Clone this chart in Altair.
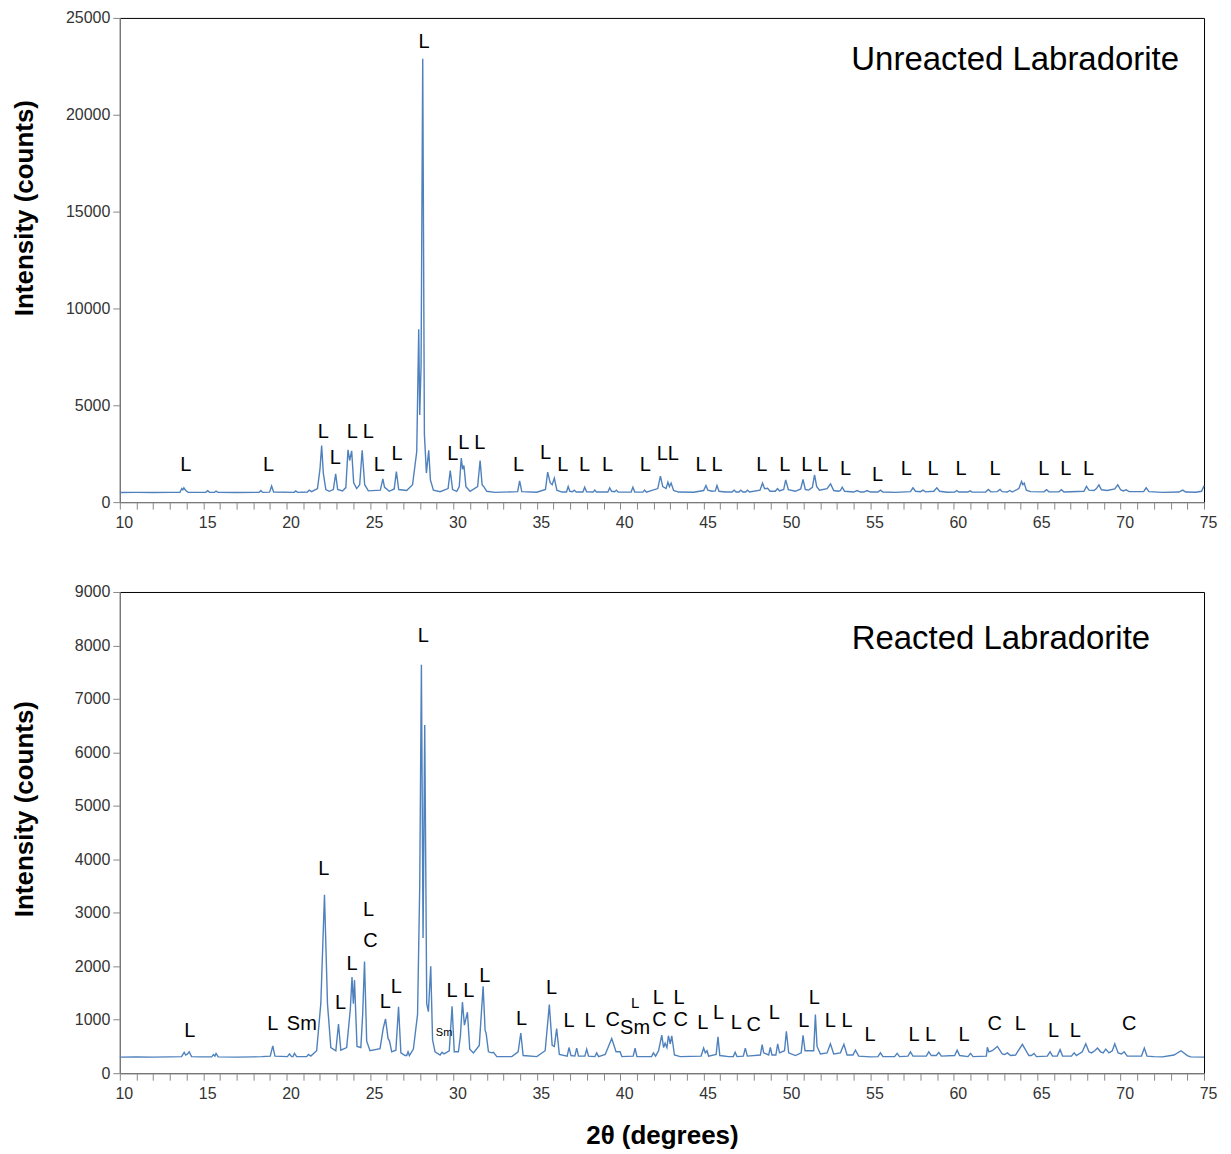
import altair as alt
import pandas as pd

# ---------------- data ----------------
unreacted_points = [
    (10.0, 500), (11.0, 505), (12.0, 500), (13.0, 505), (13.6, 510), (13.72, 700), (13.78, 640), (13.84, 740), (13.95, 600), (14.1, 505),
    (15.15, 505), (15.27, 590), (15.38, 505), (15.68, 505), (15.77, 570), (15.88, 505), (17.0, 500), (18.35, 505), (18.46, 600), (18.56, 505),
    (18.98, 515), (19.1, 830), (19.22, 520), (20.45, 505), (20.55, 580), (20.66, 505), (21.25, 520), (21.35, 620), (21.5, 540),
    (21.85, 700), (22.0, 1700), (22.1, 2920), (22.2, 1500), (22.35, 650), (22.55, 560), (22.8, 650), (22.94, 1460), (23.06, 650), (23.35, 580),
    (23.55, 750), (23.68, 2700), (23.78, 2150), (23.9, 2650), (24.02, 1000), (24.2, 700), (24.38, 900), (24.53, 2680), (24.68, 900), (24.9, 580),
    (25.62, 620), (25.77, 1200), (25.87, 760), (25.97, 700), (26.15, 560), (26.45, 680), (26.58, 1580), (26.72, 650), (27.2, 600),
    (27.55, 900), (27.8, 2600), (27.92, 8920), (27.98, 4500), (28.06, 7000), (28.16, 22890), (28.26, 3500), (28.38, 1500), (28.52, 2680),
    (28.62, 1150), (28.8, 620), (29.2, 540),
    (29.68, 700), (29.81, 1630), (29.95, 650), (30.2, 560), (30.35, 800), (30.47, 2270), (30.55, 1700), (30.63, 1890), (30.75, 800), (31.0, 560),
    (31.45, 800), (31.6, 2150), (31.72, 900), (31.85, 760), (32.0, 560), (32.5, 505),
    (33.85, 540), (33.97, 1100), (34.1, 540), (35.0, 510), (35.52, 650), (35.65, 1550), (35.8, 1000), (35.92, 900), (36.05, 1240), (36.2, 620), (36.5, 520),
    (36.78, 520), (36.88, 810), (36.98, 560), (37.14, 540), (37.24, 620), (37.36, 520), (37.76, 520), (37.87, 770), (37.98, 530), (38.38, 520), (38.47, 620), (38.58, 520),
    (39.26, 520), (39.37, 740), (39.48, 560), (39.66, 540), (39.77, 620), (39.88, 515), (40.65, 520), (40.76, 770), (40.87, 520), (41.36, 515), (41.46, 620), (41.57, 515),
    (42.25, 700), (42.41, 1340), (42.55, 800), (42.75, 700), (42.86, 1030), (42.95, 800), (43.05, 980), (43.2, 600), (43.5, 520),
    (44.4, 510), (45.0, 600), (45.14, 860), (45.25, 620), (45.5, 560), (45.7, 580), (45.8, 860), (45.92, 560), (46.3, 520), (46.7, 520), (46.83, 620),
    (46.95, 520), (47.12, 520), (47.23, 620), (47.35, 520), (47.52, 520), (47.63, 620), (47.75, 520),
    (48.38, 620), (48.53, 980), (48.65, 700), (48.83, 720), (48.98, 560), (49.3, 560), (49.43, 700), (49.55, 580), (49.8, 650), (49.92, 1150), (50.08, 640), (50.5, 560),
    (50.82, 680), (50.96, 1170), (51.1, 650), (51.3, 620), (51.52, 760), (51.65, 1410), (51.78, 800), (51.95, 620), (52.4, 700), (52.61, 940), (52.8, 600), (53.1, 560),
    (53.2, 600), (53.31, 770), (53.45, 560), (54.0, 520), (54.2, 600), (54.4, 520), (54.6, 520), (54.8, 600), (55.0, 520), (55.45, 520), (55.6, 620), (55.75, 520),
    (56.5, 505), (57.4, 540), (57.55, 740), (57.7, 560), (58.0, 540), (58.15, 620), (58.3, 530), (58.8, 560), (58.98, 740), (59.15, 560), (59.6, 510),
    (60.05, 520), (60.18, 600), (60.3, 520), (60.85, 520), (60.97, 580), (61.1, 515), (61.9, 520), (62.07, 650), (62.22, 530), (62.6, 540), (62.77, 650),
    (62.9, 540), (63.2, 520), (63.36, 600), (63.5, 520),
    (63.9, 700), (64.06, 1070), (64.14, 900), (64.22, 980), (64.35, 620), (64.6, 540), (65.4, 530), (65.56, 640), (65.7, 530), (66.3, 530), (66.45, 640), (66.6, 520),
    (67.8, 560), (67.95, 810), (68.1, 620), (68.4, 600), (68.55, 700), (68.7, 890), (68.85, 640), (69.2, 600), (69.65, 680), (69.83, 890), (70.0, 640),
    (70.15, 580), (70.33, 640), (70.5, 540),
    (71.38, 540), (71.53, 740), (71.7, 540), (72.5, 505), (73.5, 520), (73.72, 620), (73.9, 520), (74.5, 510), (74.85, 560), (75.0, 840),
]

reacted_points = [
    (10.0, 300), (11.0, 305), (12.0, 300), (13.0, 305), (13.7, 310), (13.86, 390), (13.95, 340), (14.06, 360), (14.16, 400), (14.3, 310), (14.8, 305),
    (15.5, 305), (15.62, 350), (15.7, 320), (15.77, 370), (15.9, 305), (17.0, 300), (18.0, 305), (18.5, 310),
    (19.02, 320), (19.17, 510), (19.3, 320), (20.05, 310), (20.17, 360), (20.3, 310), (20.38, 310), (20.47, 370), (20.6, 310), (21.2, 310), (21.31, 350), (21.45, 320),
    (21.8, 420), (22.05, 1300), (22.27, 3336), (22.45, 1300), (22.65, 480), (22.95, 420), (23.11, 920), (23.25, 430), (23.6, 480), (23.82, 1200),
    (23.92, 1800), (24.0, 1300), (24.07, 1740), (24.22, 500),
    (24.45, 480), (24.56, 1100), (24.67, 2090), (24.8, 600), (25.0, 420), (25.6, 460), (25.8, 850), (25.93, 1015), (26.08, 650), (26.17, 600), (26.3, 400),
    (26.55, 430), (26.71, 1240), (26.85, 380), (27.1, 330), (27.2, 330), (27.28, 400), (27.36, 330),
    (27.6, 450), (27.85, 1100), (27.98, 3500), (28.08, 7640), (28.18, 2530), (28.28, 6510), (28.4, 1300), (28.5, 1150), (28.64, 2000), (28.75, 620), (28.9, 400),
    (29.2, 340), (29.32, 390), (29.44, 360), (29.75, 420), (29.92, 1250), (30.05, 400), (30.3, 400), (30.42, 700), (30.54, 1330), (30.66, 900),
    (30.84, 1140), (30.98, 450), (31.2, 380),
    (31.55, 520), (31.78, 1624), (31.9, 800), (31.96, 750), (32.1, 400), (32.3, 380), (32.4, 390), (32.6, 310), (33.5, 310),
    (33.88, 400), (34.04, 752), (34.18, 330), (35.0, 310), (35.5, 420), (35.75, 1282), (35.92, 520), (36.05, 500), (36.19, 835), (36.35, 350),
    (36.82, 320), (36.93, 480), (37.05, 330), (37.28, 320), (37.39, 470), (37.5, 320), (37.88, 320), (37.99, 450), (38.1, 320), (38.48, 310), (38.59, 380), (38.7, 310),
    (39.1, 350), (39.49, 648), (39.75, 400), (39.99, 400), (40.1, 310), (40.78, 320), (40.89, 470), (41.0, 310), (41.88, 310), (41.99, 380), (42.12, 320),
    (42.3, 420), (42.49, 710), (42.6, 480), (42.69, 560), (42.8, 480), (42.89, 700), (43.0, 550), (43.09, 700), (43.25, 340), (43.6, 310),
    (44.85, 320), (45.0, 470), (45.1, 380), (45.2, 420), (45.3, 320), (45.75, 350), (45.86, 680), (45.97, 330), (46.5, 310), (46.78, 310), (46.89, 390),
    (47.0, 310), (47.38, 320), (47.5, 470), (47.62, 320),
    (48.4, 340), (48.51, 535), (48.6, 380), (48.9, 340), (49.0, 480), (49.1, 340), (49.33, 340), (49.44, 550), (49.55, 380), (49.85, 420), (49.96, 784),
    (50.1, 380), (50.5, 330),
    (50.85, 380), (50.96, 710), (51.08, 420), (51.6, 420), (51.7, 1095), (51.8, 500), (52.0, 360), (52.4, 380), (52.6, 550), (52.8, 360), (53.2, 380),
    (53.41, 540), (53.6, 340), (53.95, 340), (54.1, 430), (54.3, 320), (55.0, 305),
    (55.45, 310), (55.6, 380), (55.75, 310), (56.45, 310), (56.6, 370), (56.75, 310), (57.25, 320), (57.4, 400), (57.55, 320), (58.35, 320), (58.5, 400),
    (58.65, 330), (58.95, 330), (59.1, 390), (59.25, 320),
    (60.05, 330), (60.2, 430), (60.35, 330), (60.85, 310), (61.0, 370), (61.15, 310), (61.95, 320), (62.01, 485), (62.1, 400), (62.3, 420), (62.61, 500),
    (62.9, 360), (63.05, 350), (63.21, 380), (63.4, 330),
    (63.7, 340), (64.11, 540), (64.5, 330), (64.65, 330), (64.81, 370), (64.95, 310), (65.6, 320), (65.77, 400), (65.92, 320), (66.2, 320), (66.37, 440),
    (66.52, 320), (67.05, 320), (67.21, 380), (67.35, 330),
    (67.7, 400), (67.91, 550), (68.1, 400), (68.25, 380), (68.45, 420), (68.61, 470), (68.8, 400), (68.95, 380), (69.11, 450), (69.3, 380), (69.5, 420),
    (69.65, 550), (69.85, 380), (70.05, 360), (70.21, 400), (70.4, 320),
    (71.25, 320), (71.42, 470), (71.58, 320), (72.0, 310), (72.5, 305), (73.2, 340), (73.62, 420), (74.0, 330), (74.2, 305), (75.0, 300),
]

# phase labels: (text, 2theta, counts)
unreacted_labels = [
    ("L", 13.96, 1907), ("L", 18.92, 1907), ("L", 22.20, 3609), ("L", 22.92, 2268), ("L", 23.94, 3609), ("L", 24.89, 3609),
    ("L", 25.55, 1907), ("L", 26.62, 2474), ("L", 28.24, 23765), ("L", 29.97, 2474), ("L", 30.62, 3041), ("L", 31.58, 3041),
    ("L", 33.91, 1907), ("L", 35.53, 2526), ("L", 36.55, 1907), ("L", 37.86, 1907), ("L", 39.24, 1907), ("L", 41.51, 1907),
    ("L", 42.52, 2474), ("L", 43.18, 2474), ("L", 44.85, 1907), ("L", 45.80, 1907), ("L", 48.49, 1907), ("L", 49.87, 1907),
    ("L", 51.18, 1907), ("L", 52.14, 1907), ("L", 53.51, 1701), ("L", 55.42, 1392), ("L", 57.15, 1701), ("L", 58.76, 1701),
    ("L", 60.44, 1701), ("L", 62.47, 1701), ("L", 65.39, 1701), ("L", 66.71, 1701), ("L", 68.08, 1701),
]

reacted_labels = [
    ("L", 14.20, 784), ("L", 19.17, 920), ("Sm", 20.91, 920), ("L", 22.23, 3814), ("L", 23.23, 1312), ("L", 23.92, 2041),
    ("L", 24.91, 3056), ("C", 25.03, 2464), ("L", 25.92, 1326), ("L", 26.58, 1606), ("L", 28.20, 8178), ("L", 29.92, 1531),
    ("L", 30.92, 1531), ("L", 31.88, 1811), ("L", 34.08, 1008), ("L", 35.89, 1593), ("L", 36.93, 984), ("L", 38.19, 984),
    ("C", 39.55, 1003), ("Sm", 40.89, 846), ("L", 42.29, 1406), ("C", 42.35, 1003), ("L", 43.53, 1406), ("C", 43.63, 1003),
    ("L", 44.95, 939), ("L", 45.90, 1126), ("L", 46.96, 939), ("C", 48.00, 909), ("L", 49.24, 1126), ("L", 51.00, 971),
    ("L", 51.64, 1406), ("L", 52.60, 984), ("L", 53.60, 984), ("L", 54.97, 723), ("L", 57.61, 723), ("L", 58.61, 723),
    ("L", 60.61, 709), ("C", 62.45, 920), ("L", 63.98, 920), ("L", 65.98, 784), ("L", 67.28, 784), ("C", 70.52, 920),
]
reacted_small_labels = [("L", 40.89, 1312)]
reacted_tiny_labels = [("Sm", 29.44, 752)]

unreacted_title = "Unreacted Labradorite"
reacted_title = "Reacted Labradorite"
y_title = "Intensity (counts)"
x_title = "2θ (degrees)"

x_ticks = list(range(10, 76))
unreacted_y_ticks = [0, 5000, 10000, 15000, 20000, 25000]
reacted_y_ticks = [0, 1000, 2000, 3000, 4000, 5000, 6000, 7000, 8000, 9000]

# ---------------- chart ----------------
FONT = "Liberation Sans"
LINE_COLOR = "#4F81BD"
W = 1086


def pts_df(pts):
    return pd.DataFrame(pts, columns=["two_theta", "counts"])


def lab_df(labs):
    return pd.DataFrame(labs, columns=["text", "two_theta", "counts"])


def x_enc(show_title):
    return alt.X(
        "two_theta:Q",
        scale=alt.Scale(domain=[10, 75], nice=False, zero=False),
        axis=alt.Axis(
            values=x_ticks,
            labelExpr="datum.value % 5 === 0 ? datum.label : ''",
            labelOverlap=False,
            labelBound=False,
            labelFlush=False,
            labelOffset=4,
            title=x_title if show_title else None,
        ),
    )


def y_enc(ticks, top, title_y):
    return alt.Y(
        "counts:Q",
        scale=alt.Scale(domain=[0, top], nice=False, zero=True),
        axis=alt.Axis(values=ticks, format="d", labelOverlap=False, title=y_title,
                      titleX=-82, titleY=title_y),
    )


def panel(points, labels, extra, title, top, yticks, height, title_xy, title_y, show_x_title):
    xe = x_enc(show_x_title)
    ye = y_enc(yticks, top, title_y)
    line = alt.Chart(pts_df(points)).mark_line(color=LINE_COLOR, strokeWidth=1.4).encode(x=xe, y=ye)
    layers = [line]
    layers.append(
        alt.Chart(lab_df(labels)).mark_text(
            font=FONT, fontSize=20, color="black", align="center", baseline="middle"
        ).encode(x=xe, y=ye, text="text:N")
    )
    for labs, size in extra:
        layers.append(
            alt.Chart(lab_df(labs)).mark_text(
                font=FONT, fontSize=size, color="black", align="center", baseline="middle"
            ).encode(x=xe, y=ye, text="text:N")
        )
    ttl = alt.Chart(pd.DataFrame({"t": [title]})).mark_text(
        font=FONT, fontSize=33, color="black", align="right", baseline="middle"
    ).encode(x=alt.value(title_xy[0]), y=alt.value(title_xy[1]), text="t:N")
    layers.append(ttl)
    return alt.layer(*layers).properties(width=W, height=height)


top_chart = panel(unreacted_points, unreacted_labels, [], unreacted_title, 25000, unreacted_y_ticks,
                  485, (1061, 42), 190, False)
bottom_chart = panel(reacted_points, reacted_labels, [(reacted_small_labels, 15), (reacted_tiny_labels, 11)],
                     reacted_title, 9000, reacted_y_ticks, 482, (1032, 47), 217, True)

chart = alt.vconcat(top_chart, bottom_chart, spacing=52).properties(
    padding={"left": 3, "top": 0, "right": 5, "bottom": 2}
).configure_view(
    stroke="black", strokeWidth=1
).configure_axis(
    grid=False,
    domainColor="#888888",
    tickColor="#888888",
    tickSize=7,
    labelOverlap=False,
    labelFont=FONT,
    labelColor="#333333",
    labelFontSize=16,
    labelPadding=5,
    titleFont=FONT,
    titleFontWeight="bold",
    titleColor="black",
    titleFontSize=26,
).configure_axisY(
    labelPadding=3,
).configure_axisX(
    titlePadding=21,
)

chart.save("out.html", embed_options={"renderer": "svg", "actions": False})
